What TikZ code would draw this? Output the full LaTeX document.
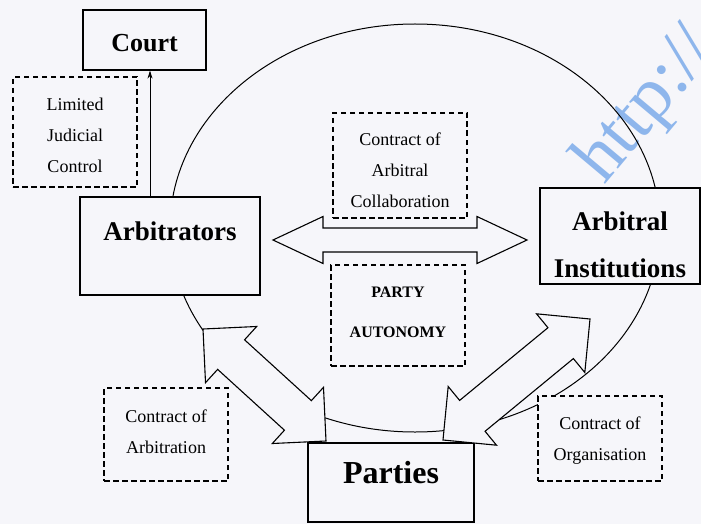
\documentclass[tikz,border=0pt]{standalone}
\usepackage{fontspec}
\setmainfont{Liberation Serif}
\usetikzlibrary{arrows.meta}
\usetikzlibrary{calc}
\definecolor{paper}{RGB}{246,246,250}
\definecolor{wmblue}{RGB}{142,182,236}

\begin{document}
\begin{tikzpicture}[x=1pt,y=-1pt,
	entity/.style={draw,line width=1.2pt,fill=paper,align=center,inner sep=0pt,font=\fontsize{27}{47}\selectfont\bfseries},
	note/.style={draw,line width=1.1pt,dash pattern=on 5.5pt off 3.5pt,fill=paper,align=center,inner sep=0pt,font=\fontsize{18}{31}\selectfont},
	fatarrow/.style={draw,line width=1.1pt,fill=paper,line join=miter}]
		\useasboundingbox (0,0) rectangle (701,524);
		\fill[paper] (0,0) rectangle (701,524);
		\node[text=wmblue,rotate=50,anchor=base west,inner sep=0pt,font=\fontsize{74}{74}\selectfont] (wm) at (604,186) {http://};
		\draw[line width=1pt] (415,228) ellipse [x radius=245pt,y radius=204pt];
		% boxes
		\node[entity,minimum width=123pt,minimum height=60pt,font=\fontsize{26}{26}\selectfont\bfseries,text height=24pt,text depth=0pt] (court) at (144.5,40) {Court};
		\node[note,minimum width=124pt,minimum height=110pt,text height=80pt,text depth=0pt] (limited) at (75,132) {Limited\\Judicial\\Control};
		\node[entity,minimum width=180pt,minimum height=98pt,text height=18pt,text depth=30pt] (arb) at (170,246) {Arbitrators};
		\node[entity,minimum width=160pt,minimum height=96pt,text height=82pt,text depth=0pt] (inst) at (620,236) {Arbitral\\Institutions};
		\node[entity,minimum width=166pt,minimum height=79pt,font=\fontsize{32}{32}\selectfont\bfseries,text height=21pt,text depth=19pt] (parties) at (391,482.5) {Parties};
		\node[note,minimum width=134pt,minimum height=105pt,text height=83pt,text depth=0pt] (collab) at (400,165.5) {Contract of\\Arbitral\\Collaboration};
		\node[note,minimum width=134pt,minimum height=101pt,font=\fontsize{16}{40}\selectfont\bfseries,text height=44pt,text depth=0pt] (autonomy) at (398,315.5) {PARTY\\AUTONOMY};
		\node[note,minimum width=124pt,minimum height=93pt,text height=37pt,text depth=0pt] (arbitration) at (166,434.5) {Contract of\\Arbitration};
		\node[note,minimum width=124pt,minimum height=85pt,text height=43pt,text depth=0pt] (organisation) at (600,438.5) {Contract of\\Organisation};
		% judicial control
		\coordinate (courtfoot) at ([xshift=5.5pt]court.south);
		\draw[line width=0.9pt,-{Stealth[length=8pt,width=5pt]}] (arb.north -| courtfoot) -- (courtfoot);
		% block arrows
		\coordinate (ha) at (273,240);
		\coordinate (hb) at (527,240);
		\coordinate (la) at (203,329);
		\coordinate (lb) at (326,441);
		\coordinate (ra) at (443,440);
		\coordinate (rb) at (590,319);
		\foreach \tipa/\tipb/\shaft/\head/\len in {ha/hb/12pt/23.5pt/50pt, la/lb/20pt/38pt/38pt, ra/rb/20pt/38pt/38pt}
			\draw[fatarrow] (\tipa) -- ($(\tipa)!\len!(\tipb)!\head!90:(\tipb)$) -- ($(\tipa)!\len!(\tipb)!\shaft!90:(\tipb)$)
				-- ($(\tipb)!\len!(\tipa)!\shaft!-90:(\tipa)$) -- ($(\tipb)!\len!(\tipa)!\head!-90:(\tipa)$) -- (\tipb)
				-- ($(\tipb)!\len!(\tipa)!\head!90:(\tipa)$) -- ($(\tipb)!\len!(\tipa)!\shaft!90:(\tipa)$)
				-- ($(\tipa)!\len!(\tipb)!\shaft!-90:(\tipb)$) -- ($(\tipa)!\len!(\tipb)!\head!-90:(\tipb)$) -- cycle;
\end{tikzpicture}
\end{document}
